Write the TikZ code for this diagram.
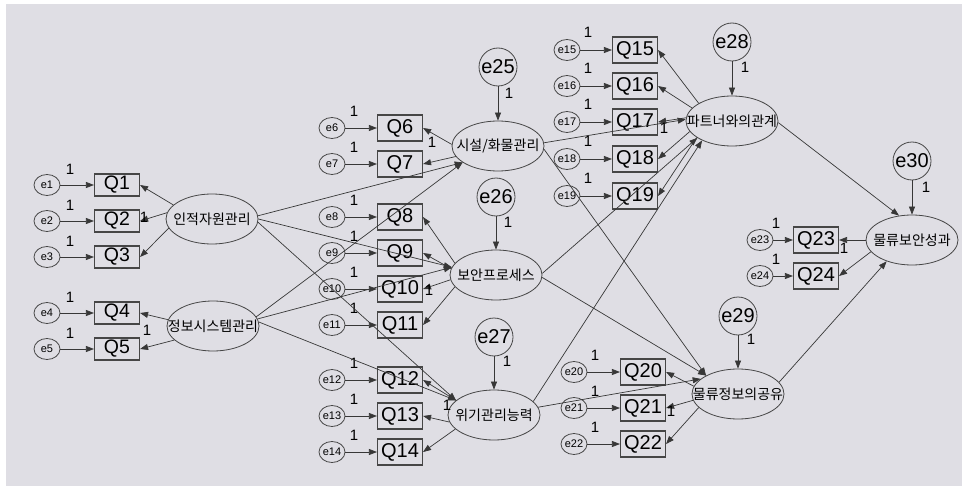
\documentclass[tikz,border=0pt]{standalone}
\usepackage{fontspec}
\setmainfont{Liberation Sans}
\newfontfamily\krfont{Noto Sans CJK KR}
\usetikzlibrary{arrows.meta,shapes.geometric}
\definecolor{bg}{RGB}{223,222,228}
\definecolor{ln}{RGB}{55,55,55}
\definecolor{bd}{RGB}{70,70,70}
\begin{document}
\begin{tikzpicture}[x=1pt,y=-1pt,
  obs/.style={draw=bd, line width=1.1pt, minimum width=45pt, minimum height=26pt, inner sep=0pt, font=\fontsize{20}{20}\selectfont},
  obsl/.style={obs, minimum height=22pt, font=\fontsize{19.5}{19.5}\selectfont},
  err/.style={ellipse, draw=bd, line width=0.8pt, minimum width=26pt, minimum height=21pt, inner sep=0pt, font=\fontsize{11}{11}\selectfont},
  bigerr/.style={circle, draw=bd, line width=0.8pt, minimum size=38pt, inner sep=0pt, font=\fontsize{20}{20}\selectfont},
  lat/.style={ellipse, draw=bd, line width=0.8pt, minimum width=92pt, minimum height=50pt, inner sep=0pt},
  lt/.style={inner sep=0pt, font=\krfont\fontsize{14}{14}\selectfont},
  pth/.style={draw=ln, line width=0.7pt, -{Triangle[length=8pt,width=6pt]}},
  one/.style={inner sep=0pt, font=\fontsize{15}{15}\selectfont}
]
\useasboundingbox (0,0) rectangle (962,487);
\fill[white] (0,0) rectangle (962,487);
\fill[bg] (6,4) rectangle (962,486);

% ---------- left block ----------
\foreach \i/\y in {1/185,2/221,3/257,4/313,5/349}{
  \node[err] (e\i) at (47,\y) {e\i};
  \node[obsl] (q\i) at (117,\y) {Q\i};
  \draw[pth] (e\i) -- (q\i);
  \node[one] (o\i) at (70,\y-16) {1};
}
\node[lat] (ijk) at (212,219) {};
\node[lt] (ijkt) at (ijk) {인적자원관리};
\node[lat] (jbs) at (213,326) {};
\node[lt] (jbst) at (jbs) {정보시스템관리};

% ---------- middle block ----------
\foreach \i/\y in {6/128,7/164,8/217,9/253,10/289,11/325,12/380,13/416,14/452}{
  \node[err] (e\i) at (332,\y) {e\i};
  \node[obs] (q\i) at (400,\y) {Q\i};
  \draw[pth] (e\i) -- (q\i);
  \node[one] (o\i) at (354,\y-17) {1};
}
\node[lat] (sis) at (498,146) {};
\node[lt] (sist) at (sis) {시설/화물관리};
\node[lat] (boan) at (496,275) {};
\node[lt] (boant) at (boan) {보안프로세스};
\node[lat] (wigi) at (494,415) {};
\node[lt] (wigit) at (wigi) {위기관리능력};
\node[bigerr] (e25) at (498,67) {e25};
\node[bigerr] (e26) at (496,197) {e26};
\node[bigerr] (e27) at (494,337) {e27};

% ---------- right block ----------
\foreach \i/\y in {15/50,16/86,17/122,18/159,19/196}{
  \node[err] (e\i) at (567,\y) {e\i};
  \node[obs] (q\i) at (635,\y) {Q\i};
  \draw[pth] (e\i) -- (q\i);
  \node[one] (o\i) at (588,\y-18) {1};
}
\foreach \i/\y in {20/372,21/408,22/444}{
  \node[err] (e\i) at (574,\y) {e\i};
  \node[obs] (q\i) at (643,\y) {Q\i};
  \draw[pth] (e\i) -- (q\i);
  \node[one] (o\i) at (595,\y-17) {1};
}
\foreach \i/\y in {23/240,24/276}{
  \node[err] (e\i) at (760,\y) {e\i};
  \node[obs] (q\i) at (816,\y) {Q\i};
  \draw[pth] (e\i) -- (q\i);
  \node[one] (o\i) at (776,\y-17) {1};
}
\node[lat] (ptn) at (732,121) {};
\node[lt] (ptnt) at (ptn) {파트너와의관계};
\node[lat] (mri) at (738,394) {};
\node[lt] (mrit) at (mri) {물류정보의공유};
\node[lat] (sg) at (912,240) {};
\node[lt] (sgt) at (sg) {물류보안성과};
\node[bigerr] (e28) at (732,42) {e28};
\node[bigerr] (e29) at (738,316) {e29};
\node[bigerr] (e30) at (912,161) {e30};

% ---------- measurement paths ----------
\draw[pth] (ijk.160) -- (q1.east);
\draw[pth] (ijk.172) -- (q2.east);
\draw[pth] (ijk.192) -- (q3.east);
\draw[pth] (jbs.172) -- (q4.east);
\draw[pth] (jbs.200) -- (q5.east);
\draw[pth] (sis.178) -- (q6.east);
\draw[pth] (sis.194) -- (q7.east);
\draw[pth] (boan.164) -- (q8.east);
\draw[pth] (boan.172) -- (q9.east);
\draw[pth] (boan.186) -- (q10.east);
\draw[pth] (boan.196) -- (q11.east);
\draw[pth] (wigi.159) -- (q12.east);
\draw[pth] (wigi.189) -- (q13.east);
\draw[pth] (wigi.200) -- (q14.east);
\draw[pth] (ptn.152) -- (q15.east);
\draw[pth] (ptn.162) -- (q16.east);
\draw[pth] (ptn.176) -- (q17.east);
\draw[pth] (ptn.194) -- (q18.east);
\draw[pth] (ptn.205) -- (q19.east);
\draw[pth] (mri.170) -- (q20.east);
\draw[pth] (mri.188) -- (q21.east);
\draw[pth] (mri.199) -- (q22.east);
\draw[pth] (sg.180) -- (q23.east);
\draw[pth] (sg.196) -- (q24.east);

% ---------- structural paths ----------
\draw[pth] (ijk.4) -- (sis.205);
\draw[pth] (ijk.0) -- (boan.170);
\draw[pth] (ijk.-4) -- (wigi.159);
\draw[pth] (jbs.12) -- (sis.205);
\draw[pth] (jbs.9) -- (boan.170);
\draw[pth] (jbs.5) -- (wigi.159);
\draw[pth] (sis.4) -- (ptn.178);
\draw[pth] (sis.-4) -- (mri.150);
\draw[pth] (boan.2) -- (ptn.206);
\draw[pth] (boan.-3) -- (mri.150);
\draw[pth] (wigi.19) -- (ptn.213);
\draw[pth] (wigi.10) -- (mri.158);
\draw[pth] (ptn.-2) -- (sg.118);
\draw[pth] (mri.16) -- (sg.220);

% ---------- disturbances ----------
\draw[pth] (e25) -- (sis);
\draw[pth] (e26) -- (boan);
\draw[pth] (e27) -- (wigi);
\draw[pth] (e28) -- (ptn);
\draw[pth] (e29) -- (mri);
\draw[pth] (e30) -- (sg);

% ---------- fixed-loading labels ----------
\node[one] (l2) at (144,217) {1};
\node[one] (l4) at (147,330) {1};
\node[one] (l6) at (432,142) {1};
\node[one] (l10) at (429,290) {1};
\node[one] (l12) at (447,405) {1};
\node[one] (l17) at (664,128) {1};
\node[one] (l21) at (671,411) {1};
\node[one] (l23) at (844,248) {1};
\node[one] (l25) at (509,93) {1};
\node[one] (l26) at (508,222) {1};
\node[one] (l27) at (507,361) {1};
\node[one] (l28) at (745,67) {1};
\node[one] (l29) at (751,339) {1};
\node[one] (l30) at (926,187) {1};
\end{tikzpicture}
\end{document}
